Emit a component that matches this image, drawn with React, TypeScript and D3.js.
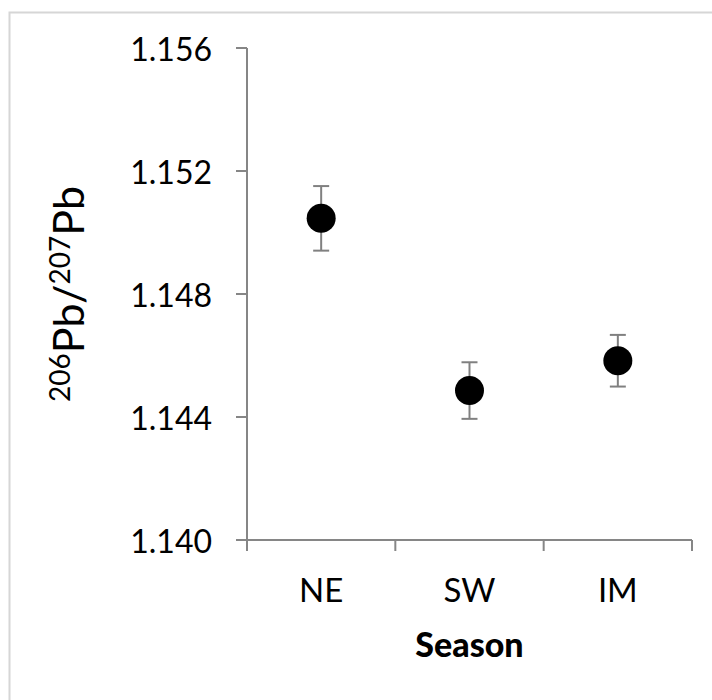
import React from "react";
import * as d3 from "d3";

const categories = ["NE", "SW", "IM"];
const means = [1.15046, 1.14486, 1.14583];
const errors = [0.00105, 0.00092, 0.00084];
const yTicks = [1.14, 1.144, 1.148, 1.152, 1.156];

const W = 712;
const H = 700;
const left = 247;
const right = 692;
const top = 48;
const bottom = 540;

export default function App() {
  const x = d3.scaleBand<string>().domain(categories).range([left, right]).padding(0);
  const y = d3.scaleLinear().domain([1.14, 1.156]).range([bottom, top]);
  const axisColor = "#868686";
  const font = "Lato, 'Open Sans', sans-serif";
  const bandEdges = categories.map((c) => x(c) as number).concat([right]);

  return (
    <svg
      width={W}
      height={H}
      style={{ position: "absolute", left: 0, top: 0, background: "#fff" }}
    >
      <rect x={9.5} y={12.5} width={W + 20} height={H + 20} fill="#fff" stroke="#d6d6d6" strokeWidth={2} />
      {/* y axis */}
      <line x1={left} x2={left} y1={top} y2={bottom + 11} stroke={axisColor} strokeWidth={2} />
      {yTicks.map((t) => (
        <g key={t}>
          <line x1={left - 11} x2={left} y1={y(t)} y2={y(t)} stroke={axisColor} strokeWidth={2} />
          <text
            x={212}
            y={y(t)}
            textAnchor="end"
            dominantBaseline="central"
            fontFamily={font}
            fontSize={32}
            fill="#000"
          >
            {d3.format(".3f")(t)}
          </text>
        </g>
      ))}
      {/* x axis */}
      <line x1={left - 11} x2={right} y1={bottom} y2={bottom} stroke={axisColor} strokeWidth={2} />
      {bandEdges.map((e, i) => (
        <line key={i} x1={e} x2={e} y1={bottom} y2={bottom + 11} stroke={axisColor} strokeWidth={2} />
      ))}
      {categories.map((c) => (
        <text
          key={c}
          x={(x(c) as number) + x.bandwidth() / 2}
          y={602}
          textAnchor="middle"
          fontFamily={font}
          fontSize={33}
          fill="#000"
        >
          {c}
        </text>
      ))}
      <text
        x={(left + right) / 2}
        y={657}
        textAnchor="middle"
        fontFamily={font}
        fontSize={34}
        fontWeight="900"
        fill="#000"
      >
        Season
      </text>
      {/* y title */}
      <text
        transform={`translate(84, ${(top + bottom) / 2}) rotate(-90)`}
        textAnchor="middle"
        fontFamily={font}
        fontSize={43}
        fill="#000"
      >
        <tspan fontSize={28} dy={-14}>206</tspan>
        <tspan dy={14}>Pb/</tspan>
        <tspan fontSize={28} dy={-14}>207</tspan>
        <tspan dy={14}>Pb</tspan>
      </text>
      {/* error bars and points */}
      {categories.map((c, i) => {
        const cx = (x(c) as number) + x.bandwidth() / 2;
        const hi = y(means[i] + errors[i]);
        const lo = y(means[i] - errors[i]);
        return (
          <g key={c}>
            <line x1={cx} x2={cx} y1={hi} y2={lo} stroke="#808080" strokeWidth={2} />
            <line x1={cx - 8} x2={cx + 8} y1={hi} y2={hi} stroke="#808080" strokeWidth={2} />
            <line x1={cx - 8} x2={cx + 8} y1={lo} y2={lo} stroke="#808080" strokeWidth={2} />
            <circle cx={cx} cy={y(means[i])} r={14.5} fill="#000" />
          </g>
        );
      })}
    </svg>
  );
}
